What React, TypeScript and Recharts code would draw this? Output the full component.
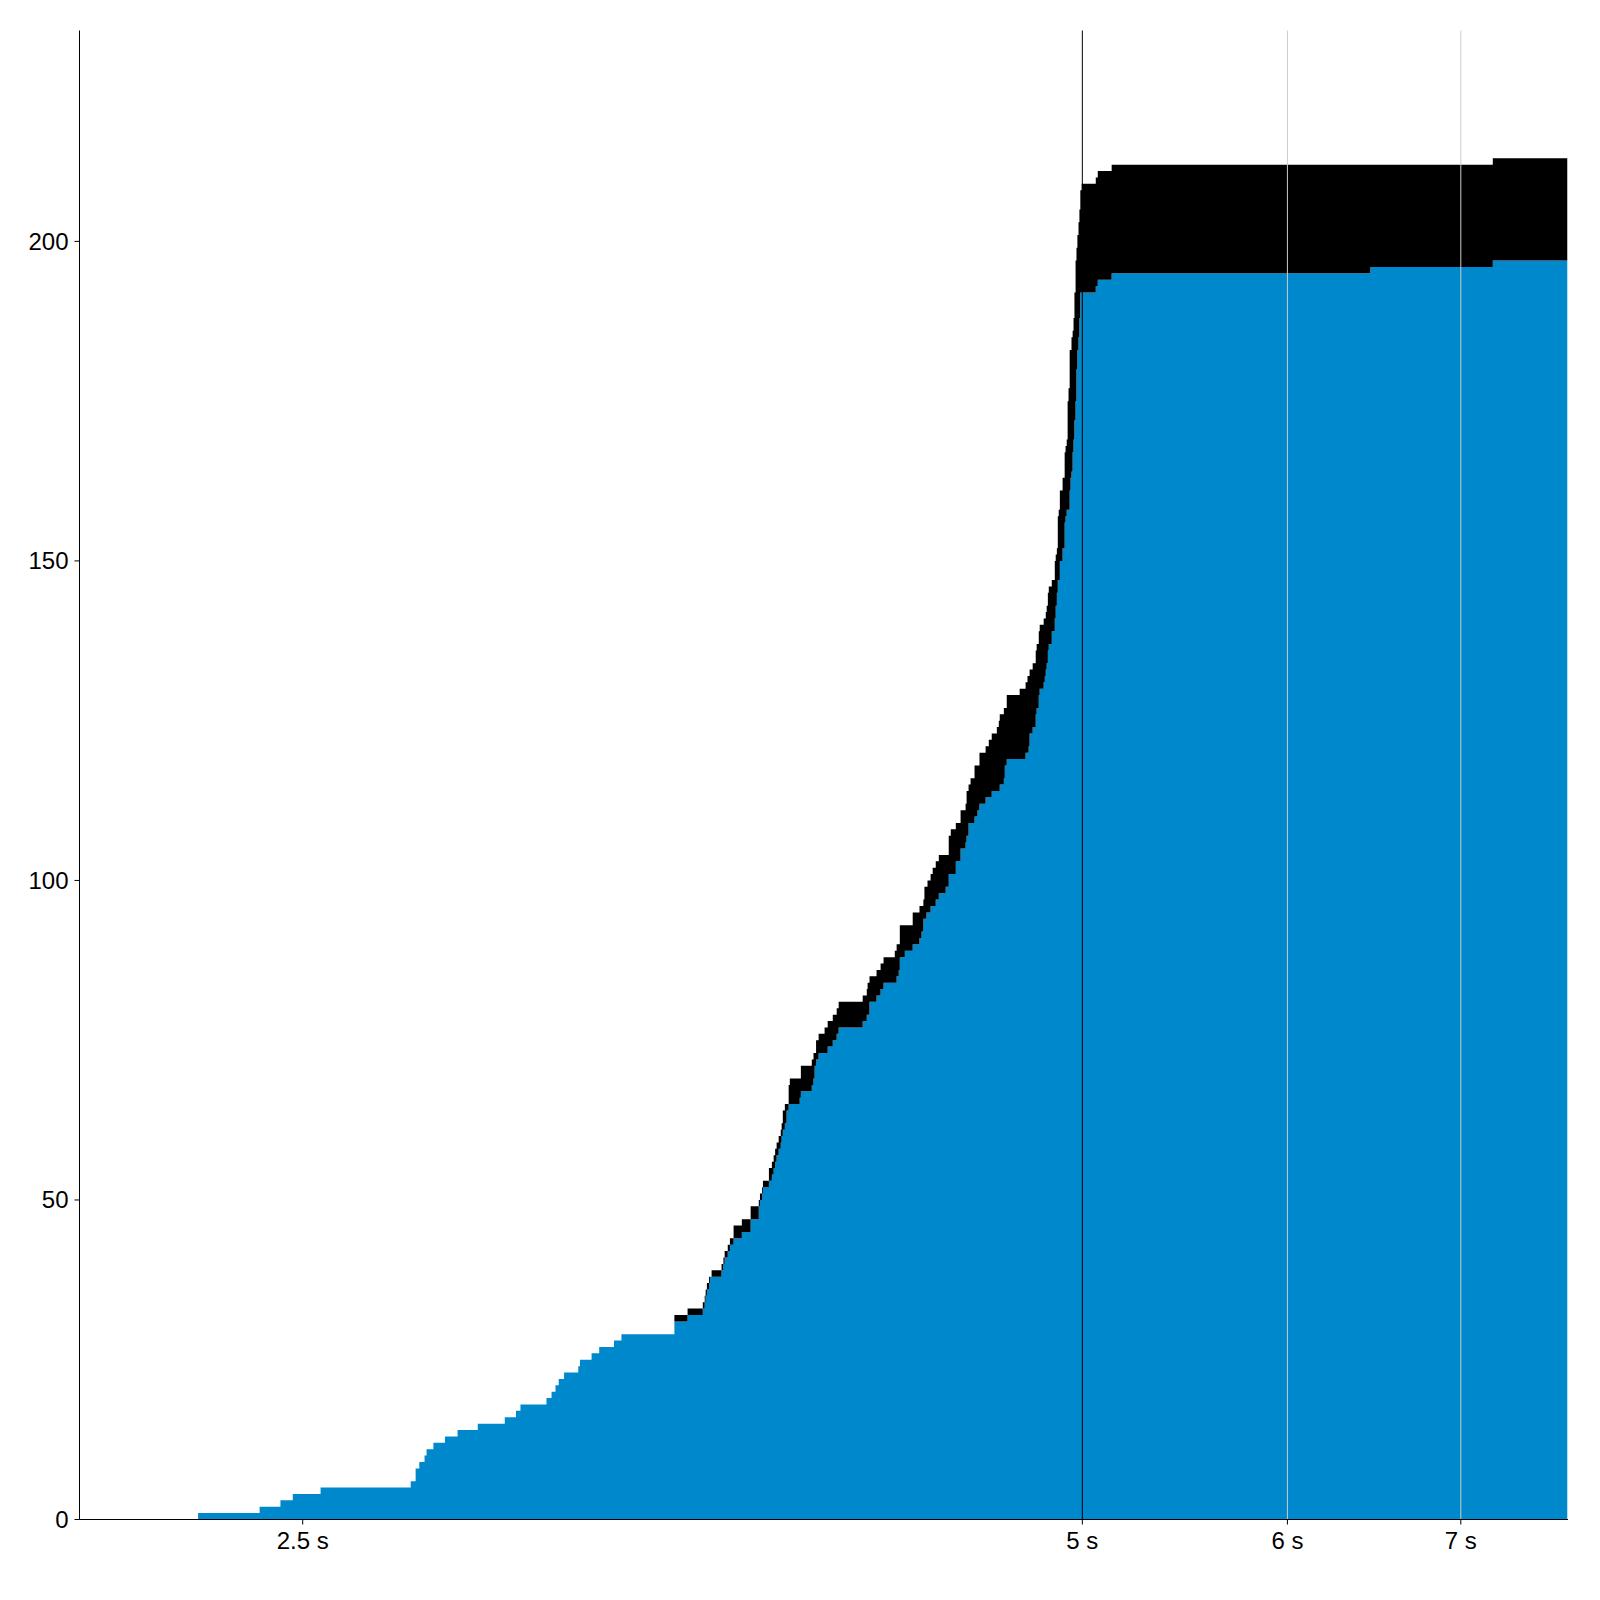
import React from 'react';
import { AreaChart, Area, XAxis, YAxis, ReferenceLine } from 'recharts';

// elapsed time (s) at each step
const times = [
  2.278, 2.406, 2.451, 2.478, 2.54, 2.752, 2.764, 2.773, 2.786, 2.791,
  2.808, 2.837, 2.869, 2.921, 2.992, 3.022, 3.034, 3.105, 3.119, 3.13,
  3.139, 3.154, 3.194, 3.199, 3.232, 3.254, 3.297, 3.319, 3.479, 3.52,
  3.568, 3.574, 3.577, 3.581, 3.588, 3.591, 3.596, 3.628, 3.634, 3.638,
  3.648, 3.655, 3.667, 3.694, 3.723, 3.75, 3.754, 3.761, 3.764, 3.784,
  3.794, 3.8, 3.805, 3.81, 3.817, 3.824, 3.827, 3.831, 3.838, 3.844,
  3.851, 3.855, 3.889, 3.893, 3.931, 3.937, 3.941, 3.946, 3.955, 3.976,
  3.987, 4.005, 4.019, 4.026, 4.113, 4.128, 4.131, 4.138, 4.164, 4.179,
  4.19, 4.232, 4.239, 4.247, 4.251, 4.27, 4.3, 4.326, 4.334, 4.341,
  4.345, 4.353, 4.357, 4.369, 4.377, 4.389, 4.401, 4.428, 4.44, 4.448,
  4.468, 4.487, 4.507, 4.511, 4.519, 4.527, 4.543, 4.555, 4.563, 4.588,
  4.601, 4.613, 4.634, 4.642, 4.646, 4.663, 4.667, 4.675, 4.729, 4.754,
  4.762, 4.767, 4.771, 4.784, 4.797, 4.801, 4.81, 4.814, 4.831, 4.836,
  4.84, 4.844, 4.849, 4.853, 4.866, 4.879, 4.883, 4.888, 4.892, 4.896,
  4.901, 4.913, 4.922, 4.926, 4.931, 4.935, 4.939, 4.944, 4.948, 4.952,
  4.957, 4.961, 4.965, 4.97, 4.974, 4.978, 4.983, 4.987, 4.991, 4.997,
  5.06, 5.069, 5.132, 6.459, 7.202, 7.695,
];

// blue series (bottom of stack)
const blueCounts = [
  1, 2, 3, 4, 5, 6, 8, 9, 10, 11,
  12, 13, 14, 15, 16, 17, 18, 19, 20, 21,
  22, 23, 24, 25, 26, 27, 28, 29, 31, 32,
  33, 34, 35, 36, 37, 38, 38, 39, 40, 41,
  42, 43, 44, 45, 47, 49, 50, 51, 52, 53,
  54, 55, 56, 57, 58, 59, 60, 61, 62, 64,
  65, 65, 66, 67, 68, 69, 71, 72, 73, 73,
  74, 75, 76, 77, 78, 79, 79, 81, 82, 83,
  84, 84, 85, 86, 88, 89, 90, 91, 92, 94,
  94, 95, 95, 96, 96, 97, 98, 99, 101, 101,
  103, 105, 106, 107, 109, 109, 110, 111, 112, 113,
  113, 114, 114, 114, 115, 116, 118, 119, 119, 120,
  120, 121, 123, 124, 126, 127, 129, 130, 131, 132,
  133, 134, 136, 137, 139, 141, 143, 145, 147, 147,
  150, 152, 156, 157, 158, 158, 158, 161, 163, 164,
  167, 169, 172, 175, 180, 183, 185, 188, 192, 192,
  193, 194, 195, 196, 197, 198,
];

// black series (stacked on top)
const blackCounts = [
  0, 0, 0, 0, 0, 0, 0, 0, 0, 0,
  0, 0, 0, 0, 0, 0, 0, 0, 0, 0,
  0, 0, 0, 0, 0, 0, 0, 0, 1, 1,
  1, 1, 1, 1, 1, 0, 1, 1, 1, 1,
  1, 1, 2, 2, 2, 1, 1, 1, 1, 2,
  2, 2, 2, 2, 2, 2, 2, 3, 3, 1,
  3, 4, 3, 4, 4, 4, 2, 3, 3, 4,
  4, 4, 4, 4, 4, 4, 5, 4, 4, 4,
  4, 5, 5, 4, 5, 4, 5, 5, 4, 3,
  5, 4, 5, 5, 6, 6, 6, 5, 6, 7,
  6, 6, 6, 7, 6, 7, 8, 7, 8, 8,
  9, 9, 10, 11, 11, 11, 9, 10, 11, 11,
  12, 11, 10, 10, 10, 10, 10, 10, 10, 9,
  9, 9, 9, 9, 8, 9, 8, 7, 10, 11,
  11, 11, 11, 11, 11, 17, 19, 22, 20, 21,
  19, 19, 20, 22, 19, 18, 18, 17, 16, 17,
  17, 17, 17, 16, 16, 15,
];

const xTicks = [2.5, 5, 6, 7];
const yTicks = [0, 50, 100, 150, 200];

const data = times.map((t, i) => ({ t, blue: blueCounts[i], black: blackCounts[i] }));

const font = { fontFamily: 'Liberation Sans, Arial, sans-serif', fontSize: 24, fill: '#000' };

export default function App() {
  return (
    <div style={{ position: 'absolute', left: 0, top: 0, background: '#fff' }}>
      <AreaChart width={1600} height={1600} data={data} margin={{ top: 30.5, right: 32, bottom: 40.5, left: 0 }}>
        <XAxis
          dataKey="t"
          type="number"
          scale="log"
          domain={[2.05, 7.7]}
          allowDataOverflow
          ticks={xTicks}
          tickFormatter={(v: number) => `${v} s`}
          height={40}
          tickSize={5}
          tickMargin={7}
          stroke="#000"
          tick={font}
        />
        <YAxis
          type="number"
          domain={[0, 233]}
          allowDataOverflow
          ticks={yTicks}
          width={79.5}
          tickSize={5}
          tickMargin={6}
          stroke="#000"
          tick={font}
        />
        <Area
          type="stepAfter"
          dataKey="blue"
          stackId="1"
          stroke="none"
          fill="#0088cc"
          fillOpacity={1}
          isAnimationActive={false}
          dot={false}
          activeDot={false}
        />
        <Area
          type="stepAfter"
          dataKey="black"
          stackId="1"
          stroke="none"
          fill="#000"
          fillOpacity={1}
          isAnimationActive={false}
          dot={false}
          activeDot={false}
        />
        <ReferenceLine x={6} stroke="#cccccc" strokeWidth={1} />
        <ReferenceLine x={7} stroke="#cccccc" strokeWidth={1} />
        <ReferenceLine x={5} stroke="#000" strokeWidth={1} />
      </AreaChart>
    </div>
  );
}
